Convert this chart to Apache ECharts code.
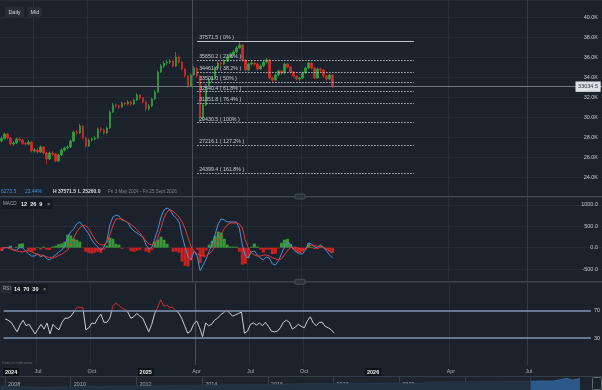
<!DOCTYPE html>
<html><head><meta charset="utf-8">
<script src="https://cdn.jsdelivr.net/npm/echarts@6/dist/echarts.min.js"></script>
<style>html,body{margin:0;padding:0;background:#1b222c;overflow:hidden}#c{width:602px;height:390px}</style>
</head><body><div id="c"></div>
<script>
// ---- data ----
// candles: [open, close, low, high], one per slot (3 trading days each)
const ohlc = [
[27600,27850,27450,28050],[27850,28300,27750,28450],[28300,27900,27750,28400],[27900,27300,27150,28000],[27300,27400,27100,27600],
[27400,27800,27300,27950],[27800,27700,27500,28000],[27700,27350,27200,27850],[27350,27300,27100,27500],[27300,27500,27150,27700],
[27500,26600,26450,27600],[26600,26700,26450,26900],[26700,26500,26300,26850],[26500,27000,26400,27150],[27000,26400,26250,27100],
[26400,25800,25260,26500],[25800,26400,25700,26550],[26400,26300,26100,26600],[26300,25600,25450,26400],[25600,26200,25500,26350],
[26200,26700,26100,26850],[26700,26900,26550,27050],[26900,27000,26750,27200],[27000,27600,26900,27750],[27600,28500,27500,28650],
[28500,28400,28200,28700],[28400,29100,28300,29300],[29100,27900,27750,29200],[27900,27100,26950,28000],[27100,27700,27000,27850],
[27700,27800,27550,27950],[27800,27900,27650,28100],[27900,28800,27800,28950],[28800,28700,28500,29000],[28700,28400,28250,28850],
[28400,28900,28300,29050],[28900,30500,28800,30650],[30500,31200,30400,31400],[31200,31100,30900,31350],[31100,31000,30800,31250],
[31000,31400,30900,31550],[31400,31300,31100,31500],[31300,31500,31150,31700],[31500,31300,31100,31650],[31300,31700,31200,31850],
[31700,32200,31600,32400],[32200,31900,31700,32300],[31900,31500,31350,32000],[31500,30800,30600,31600],[30800,31100,30650,31300],
[31100,31800,31000,31950],[31800,32500,31700,32700],[32500,34500,32400,34650],[34500,35100,34400,35300],[35100,35400,34900,35600],
[35400,35500,35200,35700],[35500,35600,35300,35800],[35600,35100,34950,35750],[35100,36000,35000,36500],[36000,35500,35350,36150],
[35500,34800,34650,35600],[34800,34100,33950,34900],[34100,33100,32900,34200],[33100,34200,33000,34350],[34200,34900,34100,35100],
[34900,34100,33900,35000],[34100,30000,29430.5,34200],[30000,31200,29700,31400],[31200,33100,31100,33300],[33100,33700,33000,33900],
[33700,33900,33500,34100],[33900,34900,33800,35050],[34900,35400,34800,35600],[35400,35300,35100,35550],[35300,35600,35200,35800],
[35600,36000,35500,36150],[36000,36300,35850,36450],[36300,36500,36150,36700],[36500,36900,36400,37100],[36900,37200,36800,37571.5],
[37200,35700,35550,37300],[35700,34700,34550,35800],[34700,35300,34600,35450],[35300,35400,35150,35600],[35400,35300,35100,35550],
[35300,34800,34650,35400],[34800,35100,34700,35250],[35100,35500,35000,35650],[35500,35700,35350,35900],[35700,33900,33750,35800],
[33900,33700,33500,34050],[33700,34200,33600,34350],[34200,34600,34100,34750],[34600,34400,34200,34700],[34400,35300,34300,35450],
[35300,35000,34850,35400],[35000,34500,34350,35100],[34500,34100,33950,34600],[34100,33800,33650,34200],[33800,33900,33600,34050],
[33900,34400,33800,34550],[34400,34900,34300,35050],[34900,35400,34800,35550],[35400,34900,34750,35500],[34900,33900,33750,35000],
[33900,34800,33800,34950],[34800,34700,34500,34950],[34700,34100,33950,34800],[34100,33800,33650,34200],[33800,34200,33700,34350],
[34200,33034.5,32900,34300]
];
const macdLine = [
-75,0,5,15,-55,-55,0,0,-75,-145,
-195,-195,-145,-215,-170,-260,-285,-215,-170,-100,
-55,40,250,370,440,555,600,510,415,320,
180,85,15,-55,15,155,530,715,760,740,
645,625,575,460,390,345,295,250,65,-30,
15,225,440,715,880,925,880,760,695,600,
275,15,-215,-285,-75,-195,-540,-400,-260,-75,
85,320,555,670,645,600,600,600,600,460,
65,-195,-240,-100,-75,-170,-240,-285,-215,-240,
-380,-400,-305,-145,15,130,85,-30,-100,-145,
-145,-55,110,85,15,0,65,0,-75,-170,-240
];
const signalLine = [
0,0,0,-30,-55,-75,-90,-100,-75,-75,
-100,-130,-155,-170,-195,-215,-230,-240,-215,-180,
-155,-100,-55,85,225,370,460,520,510,440,
320,200,110,65,65,110,295,510,670,670,
670,625,585,540,485,415,345,250,155,85,
65,85,250,460,695,835,880,855,785,715,
600,440,225,15,-75,-145,-180,-195,-195,-145,
-75,40,180,320,440,530,575,575,575,555,
460,180,0,-120,-170,-195,-195,-170,-170,-195,
-230,-260,-285,-260,-170,-75,0,15,5,-20,
-55,-30,15,65,50,30,30,15,-30,-90,-120
];
const macdHist = [
-75,0,5,45,0,20,90,100,0,-70,
-95,-65,10,-45,25,-45,-55,25,45,80,
100,140,305,285,215,185,140,-10,-95,-120,
-140,-115,-95,-120,-50,45,235,205,90,70,
-25,0,-10,-80,-95,-70,-50,0,-90,-115,
-50,140,190,255,185,90,0,-95,-90,-115,
-325,-425,-440,-300,0,-50,-360,-205,-65,70,
160,280,375,350,205,70,25,25,25,-95,
-395,-375,-240,20,95,25,-45,-115,-45,-45,
-150,-140,-20,115,185,205,85,-45,-105,-125,
-90,-25,95,20,-35,-30,35,-15,-45,-80,-120
];
const rsi = [
58,56,53,46,39,49,56,48,50,43,
36,43,50,43,52,36,50,45,42,53,
59,59,62,68,75,75,74,42,45,52,
51,59,65,53,53,59,77,81,78,74,
72,68,59,61,66,62,59,49,39,50,
66,75,86,77,78,75,75,70,67,59,
48,37,40,50,55,45,32,52,48,50,
56,59,64,67,71,67,62,64,66,68,
37,40,50,52,49,52,48,53,47,40,
39,40,45,53,56,53,43,46,50,47,
45,55,61,52,48,53,53,47,45,42,37
];
const fibLevels = [37571.5, 35650.2, 34461.6, 33501.0, 32540.4, 31351.8, 29430.5, 27216.1, 24399.4];
const fibRatios = ['0%', '23.6%', '38.2%', '50%', '61.8%', '76.4%', '100%', '127.2%', '161.8%'];
const fibStart = 65, fibEnd = 137;
const lastPrice = 33034.5;
const rsiLevels = [70, 30];
// date tick labels by slot index
const dateTicks = {2:'2024', 11:'Jul', 29:'Oct', 47:'2025', 64:'Apr', 82:'Jul', 100:'Oct', 123:'2026', 149:'Apr', 175:'Jul'};
const yearSlots = [2, 47, 123];
// navigator (long-term history)
const navYears  = [2007.85, 2008, 2008.7, 2009.2, 2010, 2011, 2012, 2013, 2014, 2015, 2016, 2017, 2018, 2019, 2020, 2020.25, 2021, 2022, 2023, 2024, 2024.4, 2024.7, 2025.1, 2025.27, 2025.5];
const navValues = [11000, 11000, 9000, 7500, 10000, 11000, 11500, 13000, 15000, 16000, 16500, 19000, 19500, 21000, 22000, 18000, 24000, 25000, 25500, 26500, 27500, 27000, 36000, 30000, 35000];
const navLabelYears = [2008, 2010, 2012, 2014, 2016, 2018, 2020, 2022, 2024];
const navWindowStart = 2024;

const SLOTS = 200;
const cats = Array.from({length: SLOTS}, (_, i) => String(i));
const FONT = '"Liberation Sans", Arial, sans-serif';
const BG = '#1b222c';
const gridC = '#242c36';
const vLineColors = ['#262e38','#262e38','#454e59','#262e38','#262e38','#262e38','#343c47','#262e38','#262e38','#262e38'];
const showSplit = (i) => dateTicks[i] !== undefined && yearSlots.indexOf(i) < 0;
const RSI_TOP = 283, RSI_H = 82, RSI_MIN = -9.6, RSI_MAX = 110.6;

function xAx(gi, labels) {
  return {
    type: 'category', gridIndex: gi, data: cats, boundaryGap: true,
    axisLine: {show: false}, axisTick: {show: false},
    splitLine: {show: true, interval: showSplit, lineStyle: {color: vLineColors, width: 1}},
    axisLabel: labels ? {
      show: true, interval: (i) => dateTicks[i] !== undefined, margin: 3,
      formatter: (v) => { const t = dateTicks[+v]; return yearSlots.indexOf(+v) >= 0 ? '{y|' + t + '}' : '{m|' + t + '}'; },
      rich: {
        y: {fontSize: 5.5, fontWeight: 'bold', color: '#e9ebee', backgroundColor: '#0e1318', padding: [1, 2, 1, 2], fontFamily: FONT},
        m: {fontSize: 5.5, color: '#a4abb3', fontFamily: FONT}
      }
    } : {show: false}
  };
}

const fibData = fibLevels.map((lv, k) => [
  {coord: [fibStart, lv],
   lineStyle: {type: k === 0 ? 'solid' : [1.5, 1.5], color: k === 0 ? '#c3c7cc' : '#b5bac0', width: 1},
   label: {show: true, position: 'insideStartTop', distance: [2, 1], formatter: lv.toFixed(1) + ' ( ' + fibRatios[k] + ' )',
           color: '#c9cdd2', fontSize: 5.3, fontFamily: FONT}},
  {coord: [fibEnd, lv]}
]);

// RSI colour: red above the 70 level (gradient in grid pixel space)
const lvlOff = (RSI_MAX - rsiLevels[0]) / (RSI_MAX - RSI_MIN);
const rsiColor = new echarts.graphic.LinearGradient(0, RSI_TOP, 0, RSI_TOP + RSI_H, [
  {offset: 0, color: '#d32a2a'}, {offset: lvlOff, color: '#d32a2a'},
  {offset: lvlOff, color: '#c9ccd1'}, {offset: 1, color: '#c9ccd1'}], true);

const navAll = navYears.map((y, k) => [y, navValues[k]]);
const navWin = navAll.filter((p) => p[0] >= navWindowStart);

const chart = echarts.init(document.getElementById('c'), null, {renderer: 'canvas'});
chart.setOption({
  animation: false,
  backgroundColor: BG,
  textStyle: {fontFamily: FONT},
  grid: [
    {left: 0, right: 0, top: 0, height: 196},
    {left: 0, right: 0, top: 197, height: 84},
    {left: 0, right: 0, top: RSI_TOP, height: RSI_H},
    {left: 0, right: 0, top: 377, height: 13}
  ],
  xAxis: [
    xAx(0, false), xAx(1, false), xAx(2, true),
    {type: 'value', gridIndex: 3, min: 2007.848, max: 2026.17,
     axisLine: {show: false}, splitLine: {show: false},
     axisTick: {show: true, inside: true, length: 13, customValues: navLabelYears, lineStyle: {color: '#38404a'}},
     axisLabel: {show: true, inside: true, customValues: navLabelYears, align: 'left', margin: 3, padding: [0, 0, 0, 3],
                 color: '#a4abb3', fontSize: 5.5, fontFamily: FONT, formatter: (v) => String(Math.round(v))}}
  ],
  yAxis: [
    {type: 'value', gridIndex: 0, position: 'right', min: 22100, max: 41700, splitNumber: 10,
     axisLine: {show: false}, axisTick: {show: false},
     splitLine: {lineStyle: {color: gridC}},
     axisLabel: {inside: true, margin: 4, color: '#c4c8cd', fontSize: 5.5, fontFamily: FONT,
                 showMinLabel: false, showMaxLabel: false, formatter: (v) => (v / 1000).toFixed(1) + 'K'}},
    {type: 'value', gridIndex: 1, position: 'right', min: -776, max: 1181, splitNumber: 4,
     axisLine: {show: false}, axisTick: {show: false},
     splitLine: {lineStyle: {color: gridC}},
     axisLabel: {inside: true, margin: 4, color: '#c4c8cd', fontSize: 5.5, fontFamily: FONT,
                 showMinLabel: false, showMaxLabel: false, formatter: (v) => v.toFixed(1)}},
    {type: 'value', gridIndex: 2, position: 'right', min: RSI_MIN, max: RSI_MAX,
     axisLine: {show: false}, axisTick: {show: false}, splitLine: {show: false}, axisLabel: {show: false}},
    {type: 'value', gridIndex: 3, min: 0, max: 40000, show: false}
  ],
  series: [
    {type: 'candlestick', xAxisIndex: 0, yAxisIndex: 0, data: ohlc, barWidth: 2,
     itemStyle: {color: '#2f9e3b', color0: '#d02a2a', borderColor: '#2f9e3b', borderColor0: '#d02a2a', borderWidth: 0.8},
     markLine: {
       silent: true, symbol: ['none', 'none'], animation: false,
       data: fibData.concat([
         {yAxis: lastPrice, lineStyle: {type: 'solid', color: '#707882', width: 1},
          label: {show: true, position: 'insideEnd', distance: 2, verticalAlign: 'middle', formatter: lastPrice.toFixed(1),
                  color: '#2a313b', backgroundColor: '#dfe2e6', borderColor: '#f3f4f6', borderWidth: 0.6,
                  padding: [2, 2, 1, 2], fontSize: 5.5, fontFamily: FONT}}
       ])
     }},
    {type: 'bar', xAxisIndex: 1, yAxisIndex: 1, data: macdHist, barCategoryGap: '0%', barWidth: '100%',
     itemStyle: {color: (p) => p.value >= 0 ? '#3a963a' : '#c92020'}},
    {type: 'line', xAxisIndex: 1, yAxisIndex: 1, data: macdLine, showSymbol: false,
     lineStyle: {color: '#4f8fd5', width: 1}, itemStyle: {color: '#4f8fd5'}},
    {type: 'line', xAxisIndex: 1, yAxisIndex: 1, data: signalLine, showSymbol: false,
     lineStyle: {color: '#e03838', width: 1}, itemStyle: {color: '#e03838'}},
    {type: 'line', xAxisIndex: 2, yAxisIndex: 2, data: rsi, showSymbol: false,
     lineStyle: {width: 1, color: rsiColor}, itemStyle: {color: '#c9ccd1'},
     markLine: {
       silent: true, symbol: ['none', 'none'], animation: false,
       data: rsiLevels.map((lv) => ({yAxis: lv, lineStyle: {type: 'solid', color: '#7f98b2', width: 1.5},
         label: {show: true, position: 'insideEnd', distance: 0, verticalAlign: 'middle', formatter: String(lv),
                 color: '#c4c8cd', backgroundColor: BG, padding: [1, 2, 1, 3], fontSize: 5.5, fontFamily: FONT}}))
     }},
    {type: 'line', xAxisIndex: 3, yAxisIndex: 3, data: navAll, showSymbol: false,
     lineStyle: {width: 0.8, color: '#2a3a4b'}, itemStyle: {color: '#2a3a4b'}, areaStyle: {color: '#223141', opacity: 1}},
    {type: 'line', xAxisIndex: 3, yAxisIndex: 3, data: navWin, showSymbol: false,
     lineStyle: {width: 0.8, color: '#3a74ad'}, itemStyle: {color: '#3a74ad'}, areaStyle: {color: '#2b5a88', opacity: 1}}
  ],
  graphic: {elements: [
    {type: 'rect', z: -1, shape: {x: 0, y: 376, width: 602, height: 14}, style: {fill: '#1d242e'}},
    {type: 'line', z: 50, shape: {x1: 0, y1: 376.5, x2: 602, y2: 376.5}, style: {stroke: '#353d47', lineWidth: 1}},
    {type: 'rect', z: 50, shape: {x: 592.5, y: 377.5, width: 9, height: 12, r: 1}, style: {fill: '#1b222c', stroke: '#5f6771', lineWidth: 1}},
    {type: 'line', z: 50, shape: {x1: 0, y1: 196.5, x2: 602, y2: 196.5}, style: {stroke: '#414953', lineWidth: 1.2}},
    {type: 'line', z: 50, shape: {x1: 0, y1: 281.8, x2: 602, y2: 281.8}, style: {stroke: '#414953', lineWidth: 1.2}},
    {type: 'rect', z: 51, shape: {x: 295, y: 194, width: 10, height: 5, r: 1.5}, style: {fill: '#2b333d', stroke: '#5d656f', lineWidth: 0.6}},
    {type: 'rect', z: 51, shape: {x: 295, y: 279.3, width: 10, height: 5, r: 1.5}, style: {fill: '#2b333d', stroke: '#5d656f', lineWidth: 0.6}},
    // top buttons
    {type: 'rect', z: 60, shape: {x: 5, y: 7, width: 19, height: 10, r: 2}, style: {fill: '#262d37'}},
    {type: 'text', z: 61, x: 14.5, y: 12, style: {text: 'Daily', fill: '#d3d6da', font: '5.5px ' + FONT, align: 'center', verticalAlign: 'middle'}},
    {type: 'rect', z: 60, shape: {x: 28, y: 7, width: 14, height: 10, r: 2}, style: {fill: '#262d37'}},
    {type: 'text', z: 61, x: 35, y: 12, style: {text: 'Mid', fill: '#d3d6da', font: '5.5px ' + FONT, align: 'center', verticalAlign: 'middle'}},
    // info row
    {type: 'text', z: 61, x: 1, y: 191.5, style: {text: '6273.5', fill: '#4d93d8', font: '5px ' + FONT, verticalAlign: 'middle'}},
    {type: 'text', z: 61, x: 25, y: 191.5, style: {text: '23.44%', fill: '#4d93d8', font: '5px ' + FONT, verticalAlign: 'middle'}},
    {type: 'text', z: 61, x: 53, y: 191.5, style: {text: 'H 37571.5', fill: '#d6d9dd', font: 'bold 5px ' + FONT, verticalAlign: 'middle'}},
    {type: 'text', z: 61, x: 78, y: 191.5, style: {text: 'L 25260.0', fill: '#d6d9dd', font: 'bold 5px ' + FONT, verticalAlign: 'middle'}},
    {type: 'text', z: 61, x: 108, y: 191.5, style: {text: 'Fri 3 May 2024 - Fri 25 Sept 2026', fill: '#7d848c', font: '4.6px ' + FONT, verticalAlign: 'middle'}},
    // MACD label
    {type: 'rect', z: 60, shape: {x: 1, y: 199, width: 52, height: 10, r: 1}, style: {fill: '#141a21'}},
    {type: 'text', z: 61, x: 3, y: 204, style: {text: 'MACD', fill: '#a3a9b1', font: '4.6px ' + FONT, verticalAlign: 'middle'}},
    {type: 'text', z: 61, x: 21, y: 204, style: {text: '12  26  9', fill: '#eceef0', font: 'bold 5.5px ' + FONT, verticalAlign: 'middle'}},
    {type: 'text', z: 61, x: 47, y: 204, style: {text: '×', fill: '#a3a9b1', font: '5.5px ' + FONT, verticalAlign: 'middle'}},
    // RSI label
    {type: 'rect', z: 60, shape: {x: 1, y: 284, width: 47, height: 10, r: 1}, style: {fill: '#141a21'}},
    {type: 'rect', z: 60, shape: {x: 1.5, y: 285, width: 10, height: 8, r: 1}, style: {fill: '#222931', stroke: '#3a414a', lineWidth: 0.5}},
    {type: 'text', z: 61, x: 3, y: 289, style: {text: 'RSI', fill: '#a3a9b1', font: '4.6px ' + FONT, verticalAlign: 'middle'}},
    {type: 'text', z: 61, x: 14, y: 289, style: {text: '14  70  30', fill: '#eceef0', font: 'bold 5.5px ' + FONT, verticalAlign: 'middle'}},
    {type: 'text', z: 61, x: 43, y: 289, style: {text: '×', fill: '#a3a9b1', font: '5.5px ' + FONT, verticalAlign: 'middle'}},
    {type: 'text', z: 61, x: 2, y: 363, style: {text: 'Data is indicative', fill: '#5f6770', font: '4px ' + FONT, verticalAlign: 'middle'}}
  ]}
});
</script></body></html>
